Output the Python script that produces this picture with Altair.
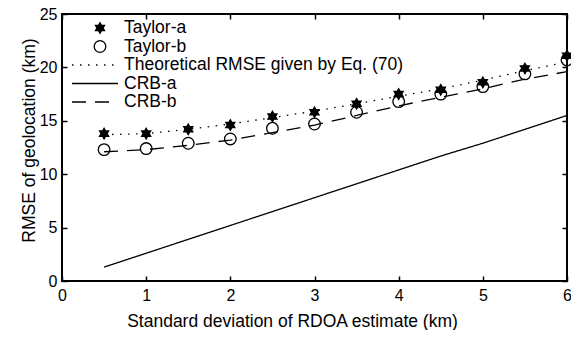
import altair as alt
import pandas as pd

x_vals = [0.5, 1.0, 1.5, 2.0, 2.5, 3.0, 3.5, 4.0, 4.5, 5.0, 5.5, 6.0]
taylor_a = [13.8, 13.8, 14.2, 14.6, 15.4, 15.8, 16.6, 17.5, 17.9, 18.6, 19.9, 21.1]
taylor_b = [12.3, 12.4, 12.9, 13.3, 14.3, 14.7, 15.8, 16.8, 17.5, 18.2, 19.4, 20.7]
theory = [13.7, 13.8, 14.2, 14.7, 15.3, 15.9, 16.6, 17.3, 18.0, 18.8, 19.7, 20.5]
crb_a = [1.3, 2.6, 3.9, 5.2, 6.5, 7.8, 9.1, 10.4, 11.7, 12.9, 14.2, 15.5]
crb_b = [12.1, 12.3, 12.7, 13.2, 13.9, 14.6, 15.5, 16.4, 17.2, 18.0, 18.9, 19.6]

series_names = ["Taylor-a", "Taylor-b", "Theoretical RMSE given by Eq. (70)", "CRB-a", "CRB-b"]
marker_series = series_names[:2]
line_series = series_names[2:]
x_ticks = [0, 1, 2, 3, 4, 5, 6]
y_ticks = [0, 5, 10, 15, 20, 25]

rows = []
for name, vals in zip(series_names, [taylor_a, taylor_b, theory, crb_a, crb_b]):
    for xv, yv in zip(x_vals, vals):
        rows.append({"x": xv, "y": yv, "series": name})
df = pd.DataFrame(rows)
legend_df = pd.DataFrame({"series": series_names, "i": list(range(len(series_names)))})

FONT = "Liberation Sans"
hexagram = "M0,-0.9L0.78,0.45L-0.78,0.45Z M0,0.9L-0.78,-0.45L0.78,-0.45Z"

shape_scale = alt.Scale(domain=marker_series, range=[hexagram, "circle"])
fill_scale = alt.Scale(domain=marker_series, range=["black", "transparent"])
dash_scale = alt.Scale(domain=line_series, range=[[1.5, 6.5], [1, 0], [14, 9]])

xscale = alt.Scale(domain=[0, 6], nice=False, zero=False)
yscale = alt.Scale(domain=[0, 25], nice=False, zero=False)

x_axis_bottom = alt.Axis(
    orient="bottom", values=x_ticks, title="Standard deviation of RDOA estimate (km)",
    offset=-5, tickSize=5, domain=False, grid=False, tickColor="black", tickWidth=1.5,
    labelFont=FONT, labelFontSize=16, labelColor="black", labelPadding=6, labelFlush=False,
    titleFont=FONT, titleFontSize=17.5, titleFontWeight="normal", titleColor="black", titlePadding=9,
    titleX=230,
)
y_axis_left = alt.Axis(
    orient="left", values=y_ticks, title="RMSE of geolocation (km)",
    offset=-5, tickSize=5, domain=False, grid=False, tickColor="black", tickWidth=1.5,
    labelFont=FONT, labelFontSize=16, labelColor="black", labelPadding=5, labelFlush=False,
    titleFont=FONT, titleFontSize=17.5, titleFontWeight="normal", titleColor="black", titlePadding=1,
    titleY=126,
)
x_axis_top = alt.Axis(orient="top", values=x_ticks, title=None, labels=False, offset=-5, tickSize=5,
                      domain=False, grid=False, tickColor="black", tickWidth=1.5)
y_axis_right = alt.Axis(orient="right", values=y_ticks, title=None, labels=False, offset=-5, tickSize=5,
                        domain=False, grid=False, tickColor="black", tickWidth=1.5)

base = alt.Chart(df)

lines = base.transform_filter(
    alt.FieldOneOfPredicate(field="series", oneOf=line_series)
).mark_line(color="black", strokeWidth=1.3).encode(
    x=alt.X("x:Q", scale=xscale, axis=x_axis_top),
    y=alt.Y("y:Q", scale=yscale, axis=y_axis_right),
    strokeDash=alt.StrokeDash("series:N", scale=dash_scale, legend=None),
    detail="series:N",
)

points = base.transform_filter(
    alt.FieldOneOfPredicate(field="series", oneOf=marker_series)
).mark_point(stroke="black", strokeWidth=1.3, opacity=1, size=135).encode(
    x=alt.X("x:Q", scale=xscale, axis=x_axis_bottom),
    y=alt.Y("y:Q", scale=yscale, axis=y_axis_left),
    shape=alt.Shape("series:N", scale=shape_scale, legend=None),
    fill=alt.Fill("series:N", scale=fill_scale, legend=None),
)

# manual legend (layout only; entries come from series_names)
leg = alt.Chart(legend_df).transform_calculate(ly="14 + datum.i * 18.5")

leg_text = leg.mark_text(align="left", baseline="middle", font=FONT, fontSize=17.5, color="black").encode(
    x=alt.value(62), y=alt.Y("ly:Q", scale=None), text="series:N"
)
leg_markers = leg.transform_filter(
    alt.FieldOneOfPredicate(field="series", oneOf=marker_series)
).mark_point(stroke="black", strokeWidth=1.3, opacity=1, size=135).encode(
    x=alt.value(38), y=alt.Y("ly:Q", scale=None),
    shape=alt.Shape("series:N", scale=shape_scale, legend=None),
    fill=alt.Fill("series:N", scale=fill_scale, legend=None),
)
leg_lines = leg.transform_filter(
    alt.FieldOneOfPredicate(field="series", oneOf=line_series)
).mark_rule(color="black", strokeWidth=1.3).encode(
    x=alt.value(10), x2=alt.value(56), y=alt.Y("ly:Q", scale=None),
    strokeDash=alt.StrokeDash("series:N", scale=dash_scale, legend=None),
)

frame = alt.Chart(pd.DataFrame({"f": [0]})).mark_rect(
    fill="transparent", stroke="black", strokeWidth=2
).encode(x=alt.value(0), x2=alt.value("width"), y=alt.value(0), y2=alt.value("height"))

chart = alt.layer(lines, points, leg_lines, leg_markers, leg_text, frame).resolve_axis(
    x="independent", y="independent"
).properties(
    width=505, height=267,
    autosize=alt.AutoSizeParams(type="none"),
    padding={"left": 54, "top": 6, "right": 4, "bottom": 49},
).configure_view(strokeWidth=0).configure(background="white")

chart.save("out.html", embed_options={"renderer": "svg", "actions": False})
